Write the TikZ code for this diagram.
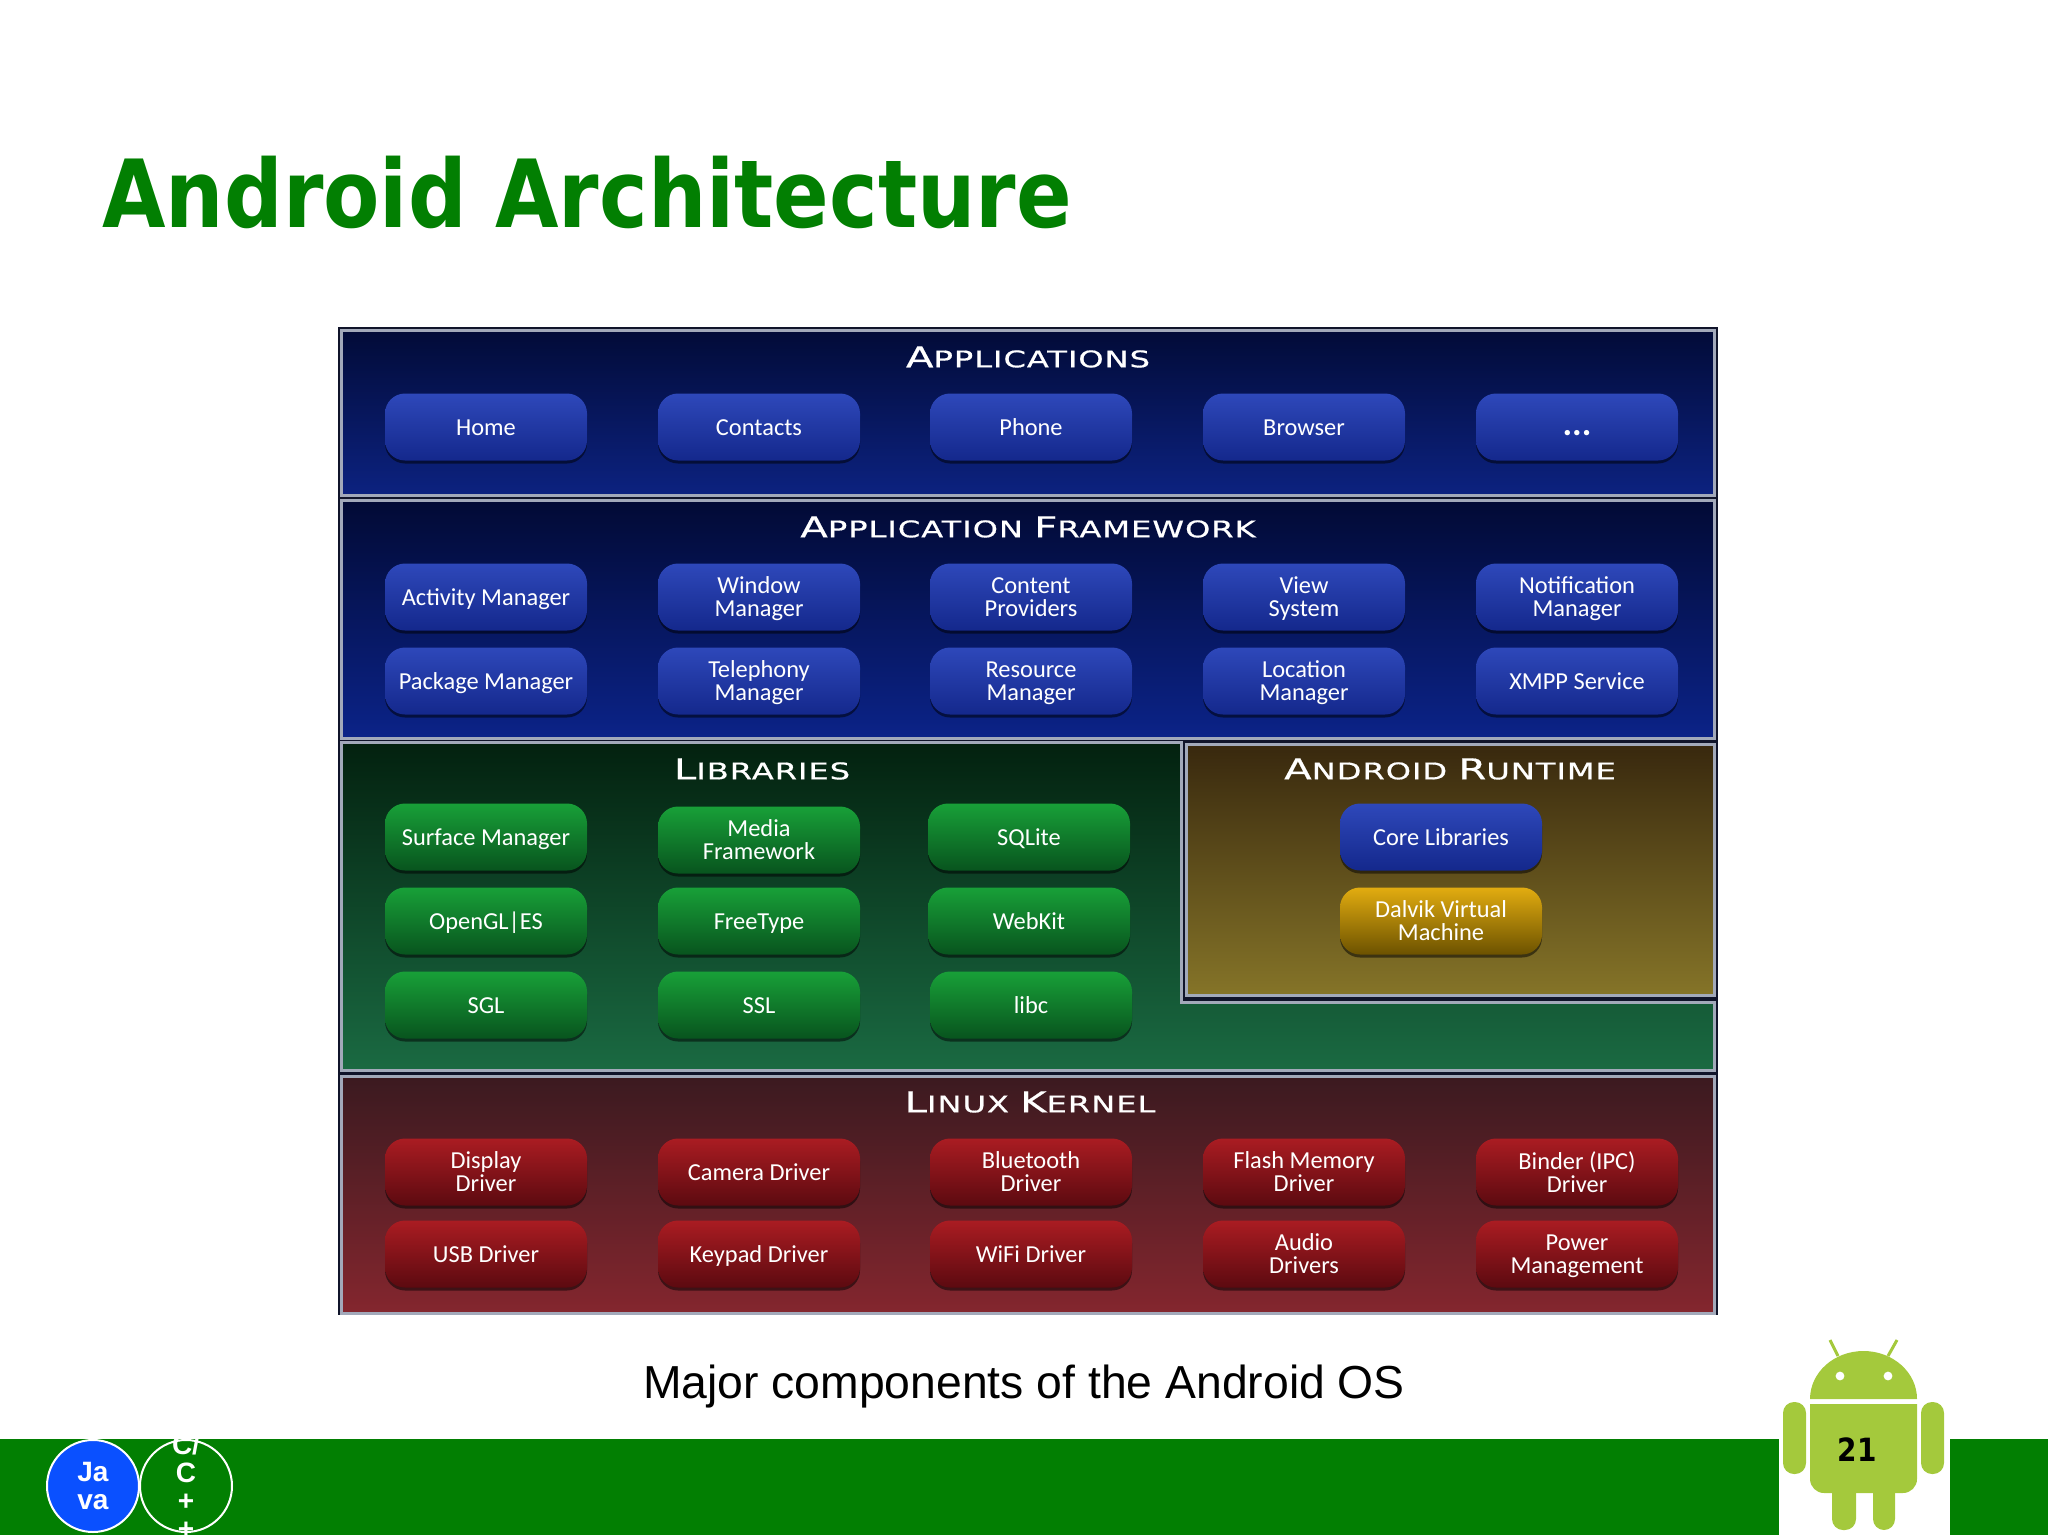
\documentclass[tikz,border=0pt]{standalone}
\usepackage{fontspec}
\setmainfont{Liberation Sans}
\newfontfamily\btnfont{Carlito}
\newfontfamily\capfont[FakeStretch=1.4,LetterSpace=4,FakeBold=0.6]{DejaVu Sans}
\newfontfamily\titlefont[FakeStretch=0.873]{DejaVu Sans}
\usepackage{tikz}
\usetikzlibrary{shadows}
\definecolor{bandgreen}{HTML}{027F02}
\definecolor{droidgreen}{HTML}{A4C93C}
\definecolor{edgegrey}{HTML}{A2A9BA}
\definecolor{javablue}{HTML}{0A50FF}
\definecolor{framedark}{HTML}{10142A}

\begin{document}
\begin{tikzpicture}[x=0.5pt, y=-0.5pt,
    panel/.style={rectangle, draw=edgegrey, line width=1.5pt, minimum width=686.5pt, inner sep=0pt},
    paneltitle/.style={text=white, font=\capfont\fontsize{11.5}{14}\selectfont},
    btn/.style={rectangle, rounded corners=10pt, minimum width=101pt, minimum height=33.5pt, inner sep=0pt, align=center, text=white, font=\btnfont\fontsize{12.2}{11.5}\selectfont, text height=8pt, text depth=0pt, drop shadow={fill=black, opacity=0.5, shadow xshift=0pt, shadow yshift=-1.5pt}},
    twoline/.style={text height=, text depth=0pt},
    bluebtn/.style={btn, top color={rgb,255:red,46;green,72;blue,186}, bottom color={rgb,255:red,20;green,40;blue,140}},
    greenbtn/.style={btn, top color={rgb,255:red,24;green,160;blue,56}, bottom color={rgb,255:red,8;green,84;blue,30}},
    redbtn/.style={btn, top color={rgb,255:red,170;green,28;blue,34}, bottom color={rgb,255:red,92;green,10;blue,16}},
    yellowbtn/.style={btn, top color={rgb,255:red,226;green,172;blue,16}, bottom color={rgb,255:red,108;green,82;blue,0}},
    badge/.style={circle, draw=white, line width=1pt, minimum size=46pt, inner sep=0pt},
    badgetext/.style={inner sep=0pt, align=center, text=white, font=\bfseries\fontsize{14}{14}\selectfont},
  ]
  \useasboundingbox (0,0) rectangle (2048,1535);

  % Slide
  \node[anchor=base west, inner sep=0pt, text=bandgreen, font=\titlefont\bfseries\fontsize{47}{50}\selectfont] (title) at (102,228) {Android Architecture};
  \node[anchor=base, inner sep=0pt, font=\fontsize{23.15}{26}\selectfont] (caption) at (1024,1398) {Major components of the Android OS};

  % Panels
  \fill[framedark] (338,327) rectangle (1718,1315);
  \node[panel, minimum height=82pt, top color={rgb,255:red,2;green,11;blue,56}, bottom color={rgb,255:red,12;green,34;blue,128}] (apps) at (1027.5,413) {};
  \node[panel, minimum height=119pt, top color={rgb,255:red,2;green,10;blue,53}, bottom color={rgb,255:red,11;green,35;blue,136}] (framework) at (1027.5,619) {};
  \draw[edgegrey, line width=1.5pt, top color={rgb,255:red,3;green,33;blue,15}, bottom color={rgb,255:red,26;green,106;blue,66}]
    (341,742) -- (1181,742) -- (1181,1002) -- (1714,1002) -- (1714,1070) -- (341,1070) -- cycle;
  \node[panel, minimum width=264pt, minimum height=125.5pt, top color={rgb,255:red,56;green,40;blue,14}, bottom color={rgb,255:red,133;green,116;blue,40}] (runtime) at (1450,869.5) {};
  \node[panel, minimum height=118.5pt, top color={rgb,255:red,59;green,26;blue,32}, bottom color={rgb,255:red,132;green,38;blue,46}] (kernel) at (1027.5,1194.5) {};

  % Panel titles
  \node[paneltitle] (appstitle) at (1028,357) {{\Large A}PPLICATIONS};
  \node[paneltitle] (frameworktitle) at (1028,527) {{\Large A}PPLICATION {\Large F}RAMEWORK};
  \node[paneltitle] (libstitle) at (762,769) {{\Large L}IBRARIES};
  \node[paneltitle] (runtimetitle) at (1450,769) {{\Large A}NDROID {\Large R}UNTIME};
  \node[paneltitle] (kerneltitle) at (1030,1102) {{\Large L}INUX {\Large K}ERNEL};

  % Applications
  \node[bluebtn] (home) at (486,427) {Home};
  \node[bluebtn] (contacts) at (759,427) {Contacts};
  \node[bluebtn] (phone) at (1031,427) {Phone};
  \node[bluebtn] (browser) at (1304,427) {Browser};
  \node[bluebtn] (more) at (1577,427) {{\bfseries\fontsize{18}{18}\selectfont ...}};

  % Application framework
  \node[bluebtn] (activity) at (486,597) {Activity Manager};
  \node[bluebtn, twoline] (window) at (759,597) {Window\\Manager};
  \node[bluebtn, twoline] (content) at (1031,597) {Content\\Providers};
  \node[bluebtn, twoline] (view) at (1304,597) {View\\System};
  \node[bluebtn, twoline] (notification) at (1577,597) {Notification\\Manager};
  \node[bluebtn] (package) at (486,681) {Package Manager};
  \node[bluebtn, twoline] (telephony) at (759,681) {Telephony\\Manager};
  \node[bluebtn, twoline] (resource) at (1031,681) {Resource\\Manager};
  \node[bluebtn, twoline] (location) at (1304,681) {Location\\Manager};
  \node[bluebtn] (xmpp) at (1577,681) {XMPP Service};

  % Libraries
  \node[greenbtn] (surface) at (486,837) {Surface Manager};
  \node[greenbtn, twoline] (media) at (759,840) {Media\\Framework};
  \node[greenbtn] (sqlite) at (1029,837) {SQLite};
  \node[greenbtn] (opengl) at (486,921) {OpenGL|ES};
  \node[greenbtn] (freetype) at (759,921) {FreeType};
  \node[greenbtn] (webkit) at (1029,921) {WebKit};
  \node[greenbtn] (sgl) at (486,1005) {SGL};
  \node[greenbtn] (ssl) at (759,1005) {SSL};
  \node[greenbtn] (libc) at (1031,1005) {libc};

  % Android runtime
  \node[bluebtn] (core) at (1441,837) {Core Libraries};
  \node[yellowbtn, twoline] (dalvik) at (1441,921) {Dalvik Virtual\\Machine};

  % Linux kernel
  \node[redbtn, twoline] (display) at (486,1172) {Display\\Driver};
  \node[redbtn] (camera) at (759,1172) {Camera Driver};
  \node[redbtn, twoline] (bluetooth) at (1031,1172) {Bluetooth\\Driver};
  \node[redbtn, twoline] (flash) at (1304,1172) {Flash Memory\\Driver};
  \node[redbtn, twoline] (binder) at (1577,1172) {Binder (IPC)\\Driver};
  \node[redbtn] (usb) at (486,1254) {USB Driver};
  \node[redbtn] (keypad) at (759,1254) {Keypad Driver};
  \node[redbtn] (wifi) at (1031,1254) {WiFi Driver};
  \node[redbtn, twoline] (audio) at (1304,1254) {Audio\\Drivers};
  \node[redbtn, twoline] (power) at (1577,1254) {Power\\Management};

  % Footer band
  \fill[bandgreen] (0,1439) rectangle (1779,1535);
  \fill[bandgreen] (1950,1439) rectangle (2048,1535);
  \node[badge, fill=javablue] (java) at (93,1486) {};
  \node[badgetext] (javatext) at (java) {Ja\\va};
  \node[badge] (cpp) at (186,1486) {};
  \node[badgetext] (cpptext) at (cpp) {C/\\C\\+\\+};

  % Robot
  \fill[droidgreen] (1810,1399) arc[start angle=180, end angle=0, x radius=26.75pt, y radius=24pt] -- cycle;
  \draw[droidgreen, line width=1.5pt] (1830,1340) -- (1838,1356);
  \draw[droidgreen, line width=1.5pt] (1897,1340) -- (1888,1356);
  \fill[white] (1840,1376) circle[radius=2.2pt];
  \fill[white] (1888,1376) circle[radius=2.2pt];
  \fill[droidgreen] (1810,1404) -- (1917,1404) {[rounded corners=7pt] -- (1917,1493) -- (1810,1493)} -- cycle;
  \fill[droidgreen, rounded corners=5.5pt] (1783,1402) rectangle (1806,1474);
  \fill[droidgreen, rounded corners=5.5pt] (1921,1402) rectangle (1944,1474);
  \fill[droidgreen, rounded corners=5.5pt] (1832,1480) rectangle (1856,1530);
  \fill[droidgreen, rounded corners=5.5pt] (1873,1480) rectangle (1895,1530);
  \node[inner sep=0pt, font=\titlefont\bfseries\fontsize{16}{18}\selectfont] (pagenum) at (1857,1450) {21};
\end{tikzpicture}
\end{document}
